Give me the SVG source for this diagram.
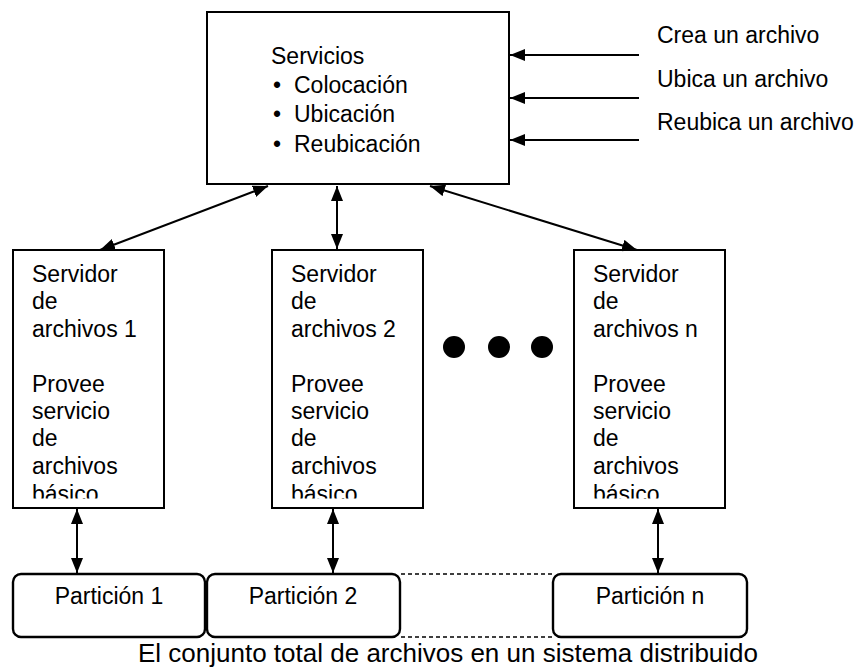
<svg xmlns="http://www.w3.org/2000/svg" width="864" height="669" viewBox="0 0 864 669">
  <style>
    .box { fill: #fff; stroke: #000; stroke-width: 2; }
    .part { fill: #fff; stroke: #000; stroke-width: 2.4; }
    .t { font-family: "Liberation Sans", Arial, sans-serif; font-size: 23px; fill: #000; }
    .pt { font-family: "Liberation Sans", Arial, sans-serif; font-size: 23px; fill: #000; text-anchor: middle; }
    .cap { font-family: "Liberation Sans", Arial, sans-serif; font-size: 26px; fill: #000; }
    .conn { stroke: #000; stroke-width: 2; fill: none; }
    .dash { stroke: #000; stroke-width: 1.3; stroke-dasharray: 4 3; fill: none; }
  </style>
  <defs>
    <marker id="ah" markerUnits="userSpaceOnUse" markerWidth="16" markerHeight="12" refX="15" refY="6" orient="auto-start-reverse">
      <path d="M0,0 L15,6 L0,12 z" fill="#000"/>
    </marker>
    <!-- text area of a server box, in the box's local coordinates -->
    <clipPath id="srvClip" clipPathUnits="userSpaceOnUse">
      <rect x="0" y="0" width="151" height="248.5"/>
    </clipPath>
  </defs>

  <rect width="864" height="669" fill="#fff"/>

  <!-- services box -->
  <g id="servicios">
    <rect class="box" x="207" y="12" width="302" height="172"/>
    <text class="t" x="271" y="64">Servicios</text>
    <text class="t" x="273" y="93">•<tspan x="294">Colocación</tspan></text>
    <text class="t" x="273" y="122">•<tspan x="294">Ubicación</tspan></text>
    <text class="t" x="273" y="152">•<tspan x="294">Reubicación</tspan></text>
  </g>

  <!-- requests -->
  <g id="op-crea"><text class="t" x="657" y="43">Crea un archivo</text></g>
  <g id="op-ubica"><text class="t" x="657" y="87">Ubica un archivo</text></g>
  <g id="op-reubica"><text class="t" x="657" y="130">Reubica un archivo</text></g>

  <!-- file servers -->
  <g id="servidor-1" transform="translate(13,250)">
    <rect class="box" x="0" y="0" width="151" height="258"/>
    <g clip-path="url(#srvClip)">
      <text class="t" x="19" y="32">Servidor</text>
      <text class="t" x="19" y="59.4">de</text>
      <text class="t" x="19" y="86.8">archivos 1</text>
      <text class="t" x="19" y="141.6">Provee</text>
      <text class="t" x="19" y="169">servicio</text>
      <text class="t" x="19" y="196.4">de</text>
      <text class="t" x="19" y="223.8">archivos</text>
      <text class="t" x="19" y="252">básico</text>
    </g>
  </g>
  <g id="servidor-2" transform="translate(272,250)">
    <rect class="box" x="0" y="0" width="151" height="258"/>
    <g clip-path="url(#srvClip)">
      <text class="t" x="19" y="32">Servidor</text>
      <text class="t" x="19" y="59.4">de</text>
      <text class="t" x="19" y="86.8">archivos 2</text>
      <text class="t" x="19" y="141.6">Provee</text>
      <text class="t" x="19" y="169">servicio</text>
      <text class="t" x="19" y="196.4">de</text>
      <text class="t" x="19" y="223.8">archivos</text>
      <text class="t" x="19" y="252">básico</text>
    </g>
  </g>
  <g id="servidor-n" transform="translate(574,250)">
    <rect class="box" x="0" y="0" width="151" height="258"/>
    <g clip-path="url(#srvClip)">
      <text class="t" x="19" y="32">Servidor</text>
      <text class="t" x="19" y="59.4">de</text>
      <text class="t" x="19" y="86.8">archivos n</text>
      <text class="t" x="19" y="141.6">Provee</text>
      <text class="t" x="19" y="169">servicio</text>
      <text class="t" x="19" y="196.4">de</text>
      <text class="t" x="19" y="223.8">archivos</text>
      <text class="t" x="19" y="252">básico</text>
    </g>
  </g>

  <!-- ellipsis between servers -->
  <g id="elipsis">
    <circle cx="454" cy="347" r="11"/>
    <circle cx="499" cy="347" r="11"/>
    <circle cx="542" cy="347" r="11"/>
  </g>

  <!-- partitions -->
  <g id="particion-1">
    <rect class="part" x="13" y="574" width="192" height="63" rx="8"/>
    <text class="pt" x="109" y="604">Partición 1</text>
  </g>
  <g id="particion-2">
    <rect class="part" x="207" y="574" width="193" height="63" rx="8"/>
    <text class="pt" x="303" y="604">Partición 2</text>
  </g>
  <g id="particion-n">
    <rect class="part" x="553" y="574" width="194" height="63" rx="8"/>
    <text class="pt" x="650" y="604">Partición n</text>
  </g>

  <g id="conjunto">
    <text class="cap" x="138" y="662">El conjunto total de archivos en un sistema distribuido</text>
  </g>

  <!-- connectors -->
  <g id="conectores">
    <line class="conn" x1="639" y1="55" x2="510" y2="55" marker-end="url(#ah)"/>
    <line class="conn" x1="639" y1="98" x2="510" y2="98" marker-end="url(#ah)"/>
    <line class="conn" x1="639" y1="140" x2="510" y2="140" marker-end="url(#ah)"/>

    <line class="conn" x1="100" y1="250" x2="268" y2="186" marker-start="url(#ah)" marker-end="url(#ah)"/>
    <line class="conn" x1="337" y1="249" x2="337" y2="186" marker-start="url(#ah)" marker-end="url(#ah)"/>
    <line class="conn" x1="430" y1="186" x2="637" y2="250" marker-start="url(#ah)" marker-end="url(#ah)"/>

    <line class="conn" x1="77" y1="509" x2="77" y2="573" marker-start="url(#ah)" marker-end="url(#ah)"/>
    <line class="conn" x1="333" y1="509" x2="333" y2="573" marker-start="url(#ah)" marker-end="url(#ah)"/>
    <line class="conn" x1="658" y1="509" x2="658" y2="573" marker-start="url(#ah)" marker-end="url(#ah)"/>

    <line class="dash" x1="401" y1="574" x2="552" y2="574"/>
    <line class="dash" x1="401" y1="637" x2="552" y2="637"/>
  </g>
</svg>
